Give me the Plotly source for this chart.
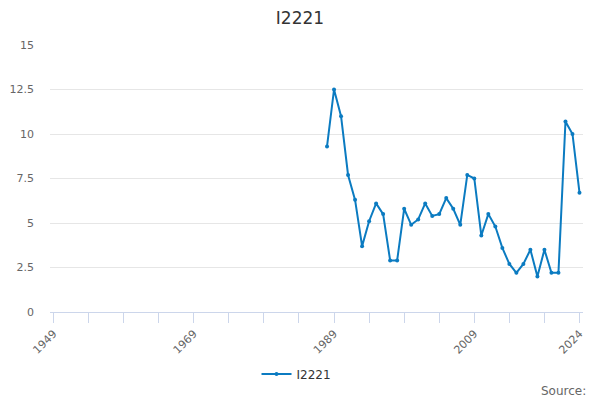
import plotly.graph_objects as go

years = list(range(1988, 2025))
values = [9.3, 12.5, 11.0, 7.7, 6.3, 3.7, 5.1, 6.1, 5.5, 2.9, 2.9, 5.8, 4.9, 5.2,
          6.1, 5.4, 5.5, 6.4, 5.8, 4.9, 7.7, 7.5, 4.3, 5.5, 4.8, 3.6, 2.7, 2.2,
          2.7, 3.5, 2.0, 3.5, 2.2, 2.2, 10.7, 10.0, 6.7]
tick_years = list(range(1949, 2025, 5))
label_years = [1949, 1969, 1989, 2009, 2024]
y_ticks = [0, 2.5, 5, 7.5, 10, 12.5, 15]
y_labels = ["0", "2.5", "5", "7.5", "10", "12.5", "15"]

color = "#0b7bc1"
font = "DejaVu Sans"

fig = go.Figure()
fig.add_trace(go.Scatter(
    x=years, y=values, mode="lines+markers", name="I2221",
    line=dict(color=color, width=2),
    marker=dict(color=color, size=4),
))

fig.update_layout(
    width=600, height=400,
    margin=dict(l=50, r=17, t=45, b=88, autoexpand=False),
    paper_bgcolor="white", plot_bgcolor="white",
    font=dict(family=font, color="#666666", size=11),
    title=dict(text="I2221", x=0.5, xanchor="center", y=0.955, yanchor="middle",
               font=dict(family=font, size=17, color="#333333")),
    showlegend=True,
    legend=dict(orientation="h", x=0.4625, xanchor="center", y=-0.232, yanchor="middle",
                font=dict(family=font, size=12, color="#333333")),
    xaxis=dict(
        range=[1948.5, 2024.5],
        tickvals=tick_years,
        ticktext=[str(y) if y in label_years else "" for y in tick_years],
        tickangle=-45,
        ticks="outside", ticklen=10, tickcolor="#ccd6eb",
        showline=True, linecolor="#ccd6eb", linewidth=1,
        showgrid=False, zeroline=False, automargin=False,
        tickfont=dict(size=11, color="#666666"),
    ),
    yaxis=dict(
        range=[0, 15],
        tickvals=y_ticks, ticktext=y_labels,
        showgrid=True, gridcolor="#e6e6e6", gridwidth=1,
        zeroline=False, showline=False, automargin=False,
        ticks="", ticklabelstandoff=15,
        tickfont=dict(size=11, color="#666666"),
    ),
    annotations=[dict(text="Source:", xref="paper", yref="paper", x=1.0, xanchor="right",
                      y=-0.296, yanchor="middle", showarrow=False, xshift=5,
                      font=dict(family=font, size=12, color="#666666"))],
)

fig.write_html("out.html", config={"displayModeBar": False},
               post_script="document.body.style.margin='0';")
